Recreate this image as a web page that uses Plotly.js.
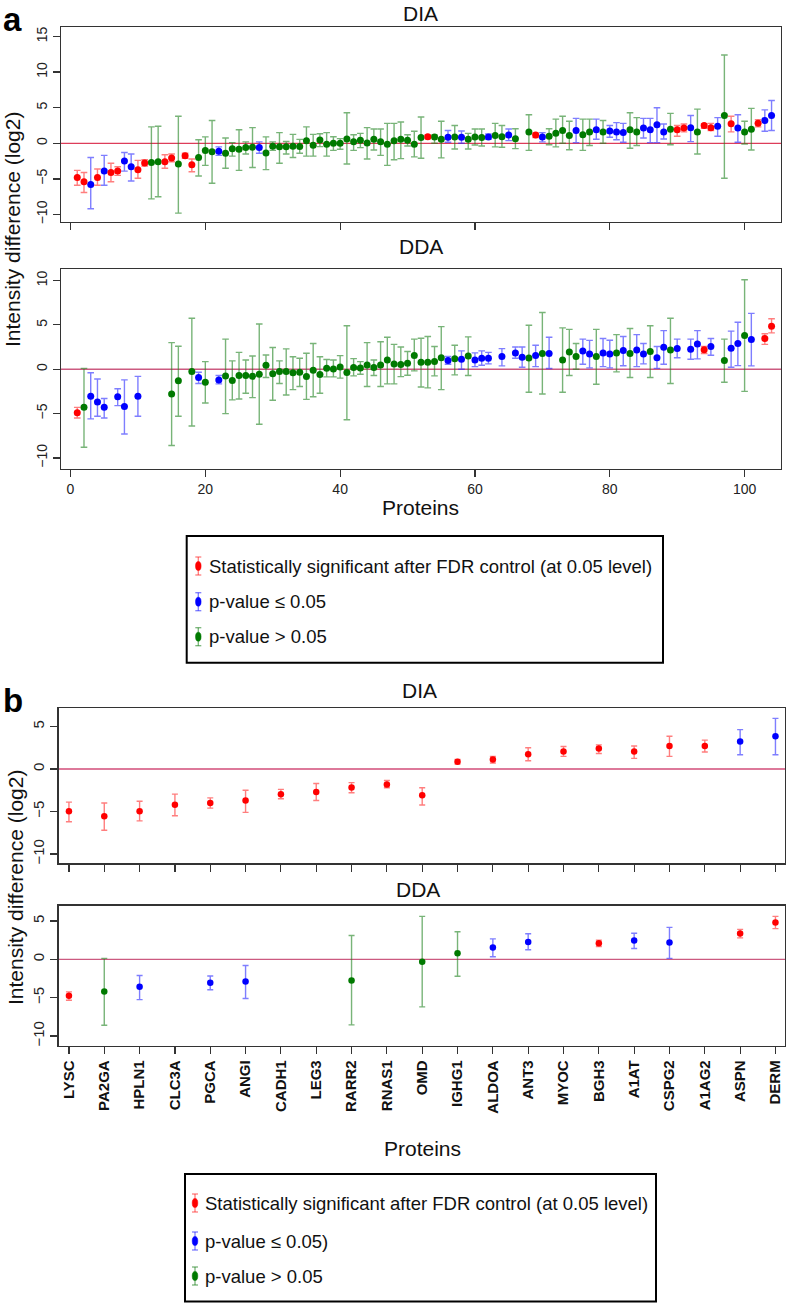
<!DOCTYPE html>
<html>
<head>
<meta charset="utf-8">
<script src="https://cdn.plot.ly/plotly-3.0.1.min.js"></script>
<style>html,body{margin:0;padding:0;background:#fff;}#chart{width:787px;height:1303px;}</style>
</head>
<body>
<div id="chart"></div>
<script>
// ---------------- DATA ----------------
// Panel a : proteins ranked 1..104 (null = not quantified)
const diaA_val = [
-4.8,-5.4,-5.8,-4.8,-3.9,-4.1,-3.9,-2.5,-3.3,-3.7,
-2.75,-2.7,-2.6,-2.6,-2.05,-2.9,-1.75,-3.0,-2.0,-1.0,
-1.2,-1.1,-1.4,-0.75,-0.85,-0.6,-0.55,-0.6,-1.35,-0.4,
-0.5,-0.5,-0.4,-0.45,0.37,-0.28,0.47,-0.14,0.0,0.0,
0.6,0.23,0.42,0.05,0.56,0.23,-0.14,0.37,0.56,0.42,
-0.14,0.8,0.93,0.9,0.56,0.84,0.9,0.84,0.56,0.9,
0.8,0.9,1.1,0.93,1.17,0.65,null,1.6,1.17,0.9,
1.0,1.4,1.8,1.1,1.8,1.2,1.6,1.9,1.6,1.73,
1.6,1.5,1.9,1.6,2.15,1.9,2.6,1.6,1.96,1.9,
2.15,2.2,1.6,2.5,2.2,2.4,3.9,2.75,2.15,1.6,
1.96,2.8,3.2,3.9];
const diaA_lo = [
-5.9,-6.9,-9.2,-5.9,-5.9,-5.4,-4.5,-3.9,-5.3,-4.9,
-3.2,-7.8,-7.5,-3.5,-2.6,-9.8,-2.1,-4.0,-4.6,-3.1,
-5.6,-1.7,-3.5,-1.8,-3.8,-1.5,-3.4,-1.4,-3.7,-1.0,
-2.8,-1.5,-2.0,-1.4,-1.8,-1.8,-0.47,-1.8,-1.0,-0.84,
-2.9,-1.0,-0.6,-2.2,-0.93,-1.7,-3.1,-2.3,-2.15,-0.37,
-1.9,-2.1,0.65,0.0,-2.05,0.14,-0.8,0.0,-0.8,-0.23,
-0.37,0.56,-0.5,-0.56,0.37,-0.75,null,-1.0,0.8,0.2,
-0.2,-0.5,0.0,-0.9,0.1,-1.0,-0.3,0.56,0.0,0.84,
0.5,0.14,-0.7,-0.3,0.75,0.1,0.1,0.6,-0.2,1.0,
1.6,0.23,-1.5,2.1,1.8,1.0,-4.9,1.6,0.14,-0.1,
-0.93,2.3,1.7,1.8];
const diaA_hi = [
-3.8,-4.1,-2.0,-3.6,-1.7,-2.8,-3.3,-1.3,-1.5,-2.4,
-2.3,2.3,2.4,-1.6,-1.5,3.8,-1.4,-2.2,0.5,0.9,
3.2,-0.5,0.75,0.1,1.9,0.2,2.2,0.2,0.9,0.2,
1.5,0.25,1.25,0.55,2.3,1.26,1.35,1.5,0.93,0.65,
4.3,1.2,1.4,2.2,2.0,2.0,2.8,2.8,3.0,1.2,
1.7,3.7,1.17,1.17,3.1,1.8,2.5,1.73,1.4,2.0,
2.0,1.3,2.8,2.5,2.0,2.05,null,4.0,1.45,1.5,
2.05,3.4,3.8,3.1,3.5,3.4,3.4,3.4,3.2,2.5,
2.9,2.8,4.3,3.6,3.5,3.5,5.0,2.7,4.2,2.5,
2.7,3.9,4.8,2.75,2.8,3.6,12.4,3.8,4.0,3.1,
4.9,3.3,4.7,6.0];
// r = significant after FDR, b = p<=0.05, g = p>0.05
const diaA_grp = ("rrbrbrrbbr"+"rggrrgrrgg"+"gbgggggbgg"+"gggggggggg"+"gggggggggg"+
  "ggrggbgbgg"+"gbggbg-grb"+"ggggbggbgb"+"bbggbbbbgr"+"rbgrrbgrbg"+"grbb").split("");

const ddaA_val = [
-4.9,-4.3,-3.05,-3.7,-4.3,null,-3.1,-4.2,null,-3.05,
null,null,null,null,-2.8,-1.3,null,-0.26,-0.94,-1.47,
null,-1.2,-0.75,-1.28,-0.7,-0.7,-0.8,-0.56,0.45,-0.5,
-0.26,-0.26,-0.4,-0.34,-0.83,-0.11,-0.6,0.11,0.04,0.26,
-0.38,0.19,0.15,0.49,0.19,0.49,1.05,0.6,0.53,0.68,
1.54,0.79,0.79,0.86,1.3,0.98,1.17,1.13,1.5,1.05,
1.24,1.24,null,1.43,null,1.84,1.35,1.28,1.54,1.77,
1.77,null,1.05,1.95,1.43,2.07,1.73,1.43,1.84,1.73,
1.84,2.1,1.77,2.18,1.73,2.0,1.3,2.48,2.18,2.33,
null,2.26,2.86,2.2,2.56,null,0.98,2.37,2.9,3.8,
3.35,null,3.46,4.85];
const ddaA_lo = [
-5.5,-8.8,-5.6,-5.3,-5.5,null,-4.1,-7.3,null,-5.3,
null,null,null,null,-8.6,-5.3,null,-6.4,-1.6,-3.8,
null,-1.65,-5.0,-3.46,-3.35,-2.7,-3.2,-6.2,-0.94,-3.5,
-1.6,-2.9,-2.3,-1.95,-3.4,-3.1,-2.7,-0.86,-0.86,-1.0,
-5.7,-0.75,-0.56,-1.95,-0.7,-1.95,-1.65,-1.65,-0.83,-0.68,
-0.19,-2.0,-2.1,-0.75,-2.3,0.56,-0.64,0.0,-0.71,0.3,
0.45,0.6,null,0.38,null,1.24,0.23,-2.6,0.3,-2.8,
0.08,null,-2.6,-0.71,0.0,0.56,0.15,-1.7,0.3,0.15,
-0.3,0.4,-0.94,0.3,0.6,-0.94,0.1,0.56,-1.6,1.3,
null,1.13,1.17,1.77,1.58,null,-1.47,0.23,0.41,-2.5,
0.38,null,2.8,4.1];
const ddaA_hi = [
-4.3,0.1,-0.4,-1.1,-3.3,null,-2.2,-1.2,null,-0.8,
null,null,null,null,3.0,2.6,null,5.75,-0.34,0.86,
null,-0.7,3.4,0.94,1.9,1.05,1.5,5.1,1.6,2.45,
0.94,2.3,1.4,1.24,1.8,2.9,1.4,1.1,1.05,1.54,
4.9,1.2,0.86,3.0,1.05,3.1,3.6,2.8,2.5,2.0,
3.4,3.5,3.7,2.56,4.8,1.43,2.7,2.07,3.65,1.84,
2.07,1.9,null,2.33,null,2.5,2.5,4.96,2.7,6.4,
3.6,null,4.66,4.5,2.9,3.4,3.25,4.5,3.46,3.27,
3.9,3.7,4.6,3.9,2.9,4.9,2.56,4.36,5.75,3.4,
null,3.4,4.36,2.56,3.46,null,3.4,4.3,5.3,10.1,
6.3,null,4.0,5.7];
const ddaA_grp = ("rgbbb-bb-b"+"----gg-gbg"+"-bgggggggg"+"gggggggggg"+"gggggggggg"+
  "gggggbgbgb"+"bb-b-bbgbg"+"b-gggbbgbb"+"gbgbbgbbgb"+"-bbrb-gbbg"+"b-rr").split("");

// Panel b : selected proteins
const catsB = ["LYSC","PA2GA","HPLN1","CLC3A","PGCA","ANGI","CADH1","LEG3","RARR2","RNAS1","OMD",
  "IGHG1","ALDOA","ANT3","MYOC","BGH3","A1AT","CSPG2","A1AG2","ASPN","DERM"];
const diaB_val = [-4.98,-5.56,-4.98,-4.2,-4.0,-3.7,-2.96,-2.7,-2.18,-1.83,-3.1,
  0.86,1.13,1.75,2.06,2.4,2.06,2.7,2.72,3.23,3.85];
const diaB_lo  = [-6.2,-7.2,-6.1,-5.5,-4.6,-5.1,-3.5,-3.7,-2.8,-2.2,-4.24,
  0.58,0.7,0.97,1.48,1.83,1.25,1.48,2.0,1.67,1.67];
const diaB_hi  = [-3.9,-4.0,-3.8,-2.96,-3.4,-2.5,-2.4,-1.7,-1.6,-1.36,-2.2,
  1.13,1.48,2.5,2.65,2.84,2.7,3.85,3.4,4.63,5.95];
const diaB_grp = ["r","r","r","r","r","r","r","r","r","r","r","r","r","r","r","r","r","r","r","b","b"];
const ddaB_val = [-4.75,-4.2,-3.58,null,-3.04,-2.9,null,null,-2.75,null,-0.33,
  0.8,1.54,2.25,null,2.1,2.46,2.2,null,3.375,4.8];
const ddaB_lo  = [-5.33,-8.6,-5.25,null,-3.96,-5.1,null,null,-8.55,null,-6.2,
  -2.2,0.33,1.25,null,1.67,1.42,0.12,null,2.8,4.0];
const ddaB_hi  = [-4.25,0.12,-2.1,null,-2.17,-0.8,null,null,3.1,null,5.6,
  3.6,2.67,3.33,null,2.5,3.4,4.17,null,3.9,5.6];
const ddaB_grp = ["r","g","b","-","b","b","-","-","g","-","g","g","b","b","-","r","b","b","-","r","r"];

const legendTexts = ["Statistically significant after FDR control (at 0.05 level)","p-value \u2264 0.05","p-value > 0.05"];
const legendTextsB = ["Statistically significant after FDR control (at 0.05 level)","p-value \u2264 0.05)","p-value > 0.05"];

// ---------------- STYLE / GEOMETRY ----------------
const W = 787, H = 1303;
const fx = x => x / W, fy = y => 1 - y / H;
const COL = {r:"#ff0000", b:"#0000ff", g:"#007a00"};
const ERR = {r:"rgba(255,40,40,0.6)", b:"rgba(40,40,255,0.6)", g:"rgba(30,130,30,0.6)"};
const FONT = "Liberation Sans, Arial, Helvetica, sans-serif";

function panelTraces(val, lo, hi, grp, xa, ya, size, cap, offset) {
  const out = [];
  for (const g of ["g","b","r"]) {
    const X=[],Y=[],P=[],M=[];
    for (let i = 0; i < val.length; i++) {
      if (val[i] === null || grp[i] !== g) continue;
      X.push(i + offset);
      Y.push(val[i]); P.push(hi[i] - val[i]); M.push(val[i] - lo[i]);
    }
    out.push({type:"scatter", mode:"markers", x:X, y:Y, xaxis:xa, yaxis:ya,
      showlegend:false, hoverinfo:"skip", cliponaxis:false,
      marker:{color:COL[g], size:size, line:{width:0}},
      error_y:{type:"data", symmetric:false, array:P, arrayminus:M,
        color:ERR[g], thickness:1.4, width:cap}});
  }
  return out;
}

const traces = [].concat(
  panelTraces(diaA_val, diaA_lo, diaA_hi, diaA_grp, "x", "y", 7, 3.3, 1),
  panelTraces(ddaA_val, ddaA_lo, ddaA_hi, ddaA_grp, "x2", "y2", 7, 3.3, 1),
  panelTraces(diaB_val, diaB_lo, diaB_hi, diaB_grp, "x3", "y3", 6.5, 3, 0),
  panelTraces(ddaB_val, ddaB_lo, ddaB_hi, ddaB_grp, "x4", "y4", 6.5, 3, 0)
);

const axBase = {showgrid:false, zeroline:false, showline:true, mirror:true, linecolor:"#333", linewidth:1.3,
  ticks:"outside", ticklen:7, tickwidth:1.2, tickcolor:"#333", fixedrange:true,
  tickfont:{family:FONT, size:14, color:"#222"}};
const yBase = Object.assign({}, axBase, {tickangle:-90});
const yBaseB = Object.assign({}, yBase, {tickfont:{family:FONT, size:15, color:"#222"}});
const xBase = Object.assign({}, axBase);

const layout = {
  width:W, height:H, margin:{l:0,r:0,t:0,b:0}, paper_bgcolor:"#fff", plot_bgcolor:"#fff",
  showlegend:false, font:{family:FONT, color:"#111"},
  xaxis: Object.assign({}, xBase, {domain:[fx(61),fx(781)], range:[-1.41,105.4], anchor:"y",
    tickvals:[0,20,40,60,80,100], showticklabels:false}),
  yaxis: Object.assign({}, yBase, {domain:[fy(222),fy(27)], range:[-11.05,16.33], anchor:"x",
    tickvals:[-10,-5,0,5,10,15]}),
  xaxis2: Object.assign({}, xBase, {domain:[fx(61),fx(781)], range:[-1.41,105.4], anchor:"y2",
    tickvals:[0,20,40,60,80,100]}),
  yaxis2: Object.assign({}, yBase, {domain:[fy(469),fy(269.3)], range:[-11.25,11.27], anchor:"x2",
    tickvals:[-10,-5,0,5,10]}),
  xaxis3: Object.assign({}, xBase, {domain:[fx(58.7),fx(785)], range:[-0.29,20.27], anchor:"y3",
    tickvals:catsB.map((c,i)=>i), showticklabels:false}),
  yaxis3: Object.assign({}, yBaseB, {domain:[fy(863.3),fy(708.3)], range:[-11.09,7.14], anchor:"x3",
    tickvals:[-10,-5,0,5]}),
  xaxis4: Object.assign({}, xBase, {domain:[fx(58.7),fx(785)], range:[-0.29,20.27], anchor:"y4",
    tickvals:catsB.map((c,i)=>i), ticktext:catsB, tickangle:-90,
    tickfont:{family:FONT, size:15, color:"#111", weight:"bold"}}),
  yaxis4: Object.assign({}, yBaseB, {domain:[fy(1046),fy(905.7)], range:[-11.3,6.99], anchor:"x4",
    tickvals:[-10,-5,0,5]}),
  shapes:[], annotations:[]
};

// zero reference lines
[["x","y","#dd3d5a"],["x2","y2","#cc5a80"],["x3","y3","#d24d78"],["x4","y4","#cc5a80"]].forEach(([xa,ya,c]) => {
  layout.shapes.push({type:"line", layer:"below", xref:xa+" domain", yref:ya, x0:0, x1:1, y0:0, y1:0,
    line:{color:c, width:1.3}});
});

function ann(text, x, y, opts) {
  layout.annotations.push(Object.assign({text:text, xref:"paper", yref:"paper", x:fx(x), y:fy(y),
    showarrow:false, xanchor:"center", yanchor:"middle",
    font:{family:FONT, size:21, color:"#111"}}, opts||{}));
}
// titles
ann("DIA", 421, 13);
ann("DDA", 421, 247);
ann("DIA", 419, 690);
ann("DDA", 418, 889);
ann("<b>a</b>", 12, 0, {yanchor:"top", borderpad:0, font:{family:FONT, size:33, color:"#000"}});
ann("<b>b</b>", 13, 700, {font:{family:FONT, size:33, color:"#000"}});
ann("Intensity difference (log2)", 13, 230, {textangle:-90});
ann("Intensity difference (log2)", 15, 888, {textangle:-90});
ann("Proteins", 421, 507);
ann("Proteins", 422, 1148);

function legend(x0, y0, x1, y1, ys, symX, textX, texts) {
  layout.shapes.push({type:"rect", xref:"paper", yref:"paper", x0:fx(x0), x1:fx(x1), y0:fy(y0), y1:fy(y1),
    line:{color:"#000", width:2}, fillcolor:"rgba(0,0,0,0)"});
  ["r","b","g"].forEach((g, k) => {
    const y = ys[k];
    const L = (xa, ya, xb, yb) => layout.shapes.push({type:"line", xref:"paper", yref:"paper",
      x0:fx(xa), y0:fy(ya), x1:fx(xb), y1:fy(yb), line:{color:ERR[g], width:1.3}});
    L(symX, y-9, symX, y+9); L(symX-3, y-9, symX+3, y-9); L(symX-3, y+9, symX+3, y+9);
    layout.shapes.push({type:"circle", xref:"paper", yref:"paper", x0:fx(symX-2.8), x1:fx(symX+2.8),
      y0:fy(y-4.5), y1:fy(y+4.5), fillcolor:COL[g], line:{color:COL[g], width:0.5}});
    ann(texts[k], textX, y, {xanchor:"left", font:{family:FONT, size:18.5, color:"#111"}});
  });
}
legend(186.7, 536, 663, 662.7, [566, 601.7, 636.7], 198.3, 207, legendTexts);
legend(185, 1174, 656, 1301.5, [1203, 1241, 1276], 195, 203, legendTextsB);

Plotly.newPlot("chart", traces, layout, {staticPlot:true, displayModeBar:false});
</script>
</body>
</html>
